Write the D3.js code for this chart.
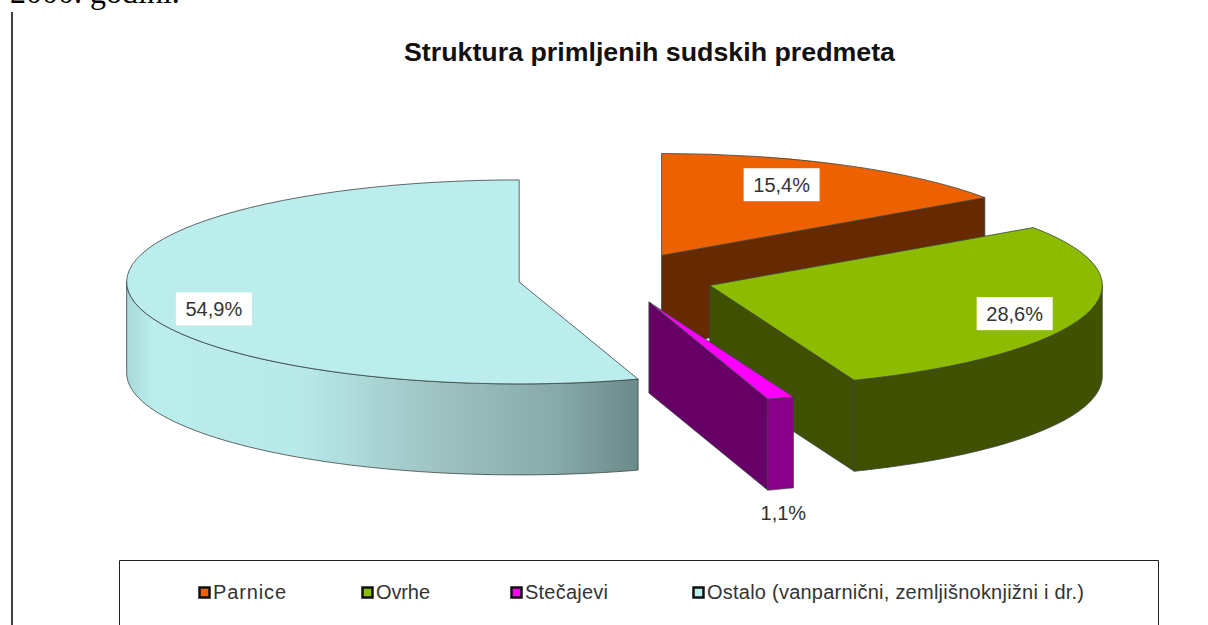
<!doctype html>
<html lang="en">

<head>
    <meta charset="utf-8">
    <title>Struktura primljenih sudskih predmeta</title>
    <script src="https://cdn.jsdelivr.net/npm/d3@7"></script>
    <style>
        html, body { margin: 0; padding: 0; background: #fff; overflow: hidden; }
    </style>
</head>

<body>
    <script>
        // the chart data
        var categories = ["Parnice", "Ovrhe", "Stečajevi", "Ostalo (vanparnični, zemljišnoknjižni i dr.)"];
        var values = [15.4, 28.6, 1.1, 54.9];
        var valueLabels = ["15,4%", "28,6%", "1,1%", "54,9%"];

        // colours per slice: top face, cut face, outer wall
        var topColors = ["#ed6100", "#8cbb00", "#ff00ff", "#bbeded"];
        var cutColors = ["#662900", "#3f5000", "#660066", "#6e8c8c"];
        var wallStops = [
            [["0%", "#662900"], ["100%", "#662900"]],
            [["0%", "#3f5000"], ["100%", "#405200"]],
            [["0%", "#8b008b"], ["100%", "#8b008b"]],
            [["0%", "#a8d8d8"], ["5%", "#bbeded"], ["34%", "#b8e9e9"], ["59%", "#a0c5c5"], ["85%", "#86a8a8"], ["100%", "#6b8a8a"]]
        ];

        // label nudges from the default spot on the slice
        var labelNudge = [[-26, 2], [4.5, 5], [29, 134.5], [5, 15]];

        var width = 1208, height = 625;
        var cx = 616, cy = 278, rx = 392.5, ry = 102, depth = 91, explode = 98;

        var svg = d3.select("body").append("svg")
            .attr("width", width)
            .attr("height", height)
            .style("display", "block");

        // page text above the chart, cut off at the top
        svg.append("text")
            .text("2000. godini.")
            .attr("x", 10)
            .attr("y", 3)
            .attr("font-family", "Liberation Serif")
            .attr("font-size", "32px")
            .attr("fill", "#000");

        // left edge of the text frame
        svg.append("line")
            .attr("x1", 12).attr("x2", 12)
            .attr("y1", 12).attr("y2", height)
            .attr("stroke", "#000")
            .attr("stroke-width", 1.5);

        svg.append("text")
            .text("Struktura primljenih sudskih predmeta")
            .attr("x", 404)
            .attr("y", 61)
            .attr("textLength", 491)
            .attr("lengthAdjust", "spacingAndGlyphs")
            .attr("font-family", "Liberation Sans")
            .attr("font-weight", "bold")
            .attr("font-size", "25.5px")
            .attr("fill", "#111");

        var pie = d3.pie().sort(null);
        var slices = pie(values);

        // point on the ellipse, angle clockwise from the top
        function ex(a) { return rx * Math.sin(a); }
        function ey(a) { return -ry * Math.cos(a); }

        function wallPath(a0, a1) {
            var p = d3.path();
            p.moveTo(ex(a0), ey(a0));
            var n = 60, i, a;
            for (i = 1; i <= n; i++) {
                a = a0 + (a1 - a0) * i / n;
                p.lineTo(ex(a), ey(a));
            }
            for (i = n; i >= 0; i--) {
                a = a0 + (a1 - a0) * i / n;
                p.lineTo(ex(a), ey(a) + depth);
            }
            p.closePath();
            return p.toString();
        }

        function cutPath(a) {
            var p = d3.path();
            p.moveTo(0, 0);
            p.lineTo(ex(a), ey(a));
            p.lineTo(ex(a), ey(a) + depth);
            p.lineTo(0, depth);
            p.closePath();
            return p.toString();
        }

        var defs = svg.append("defs");
        var arc = d3.arc().innerRadius(0).outerRadius(1);

        // back to front: Ostalo, Parnice, Ovrhe, Stečajevi
        var drawOrder = [3, 0, 1, 2];
        var edge = "#3a4444";

        drawOrder.forEach(function(idx) {
            var s = slices[idx];
            var mid = (s.startAngle + s.endAngle) / 2;
            var sx = cx + explode * Math.sin(mid);
            var sy = cy - explode * (ry / rx) * Math.cos(mid);
            var g = svg.append("g").attr("transform", "translate(" + sx + "," + sy + ")");

            // the cut face at the end of the slice looks down only in the right half
            if (s.endAngle < Math.PI) {
                g.append("path")
                    .attr("d", cutPath(s.endAngle))
                    .attr("fill", cutColors[idx])
                    .attr("stroke", edge)
                    .attr("stroke-width", 0.8);
            }

            // the outer wall shows only along the front half of the ellipse
            var w0 = Math.max(s.startAngle, Math.PI / 2);
            var w1 = Math.min(s.endAngle, 3 * Math.PI / 2);
            if (w1 > w0) {
                var gradId = "wall" + idx;
                var grad = defs.append("linearGradient")
                    .attr("id", gradId)
                    .attr("gradientUnits", "userSpaceOnUse")
                    .attr("x1", Math.min(ex(w0), ex(w1))).attr("x2", Math.max(ex(w0), ex(w1)))
                    .attr("y1", 0).attr("y2", 0);
                wallStops[idx].forEach(function(st) {
                    grad.append("stop").attr("offset", st[0]).attr("stop-color", st[1]);
                });
                g.append("path")
                    .attr("d", wallPath(w0, w1))
                    .attr("fill", "url(#" + gradId + ")")
                    .attr("stroke", edge)
                    .attr("stroke-width", 0.8);
            }

            // the top face, drawn on a unit circle and squashed to the ellipse
            g.append("path")
                .attr("d", arc(s))
                .attr("transform", "scale(" + rx + "," + ry + ")")
                .attr("fill", topColors[idx])
                .attr("stroke", edge)
                .attr("stroke-width", 0.8)
                .attr("vector-effect", "non-scaling-stroke");
        });

        // the value labels on white boxes
        slices.forEach(function(s, idx) {
            var mid = (s.startAngle + s.endAngle) / 2;
            var sx = cx + explode * Math.sin(mid);
            var sy = cy - explode * (ry / rx) * Math.cos(mid);
            var lx = sx + 0.8 * ex(mid) + labelNudge[idx][0];
            var ly = sy + 0.8 * ey(mid) + labelNudge[idx][1];
            svg.append("rect")
                .attr("x", lx - 38).attr("y", ly - 17)
                .attr("width", 76).attr("height", 33)
                .attr("fill", "#fff");
            svg.append("text")
                .text(valueLabels[idx])
                .attr("x", lx).attr("y", ly + 7)
                .attr("text-anchor", "middle")
                .attr("font-family", "Liberation Sans")
                .attr("font-size", "20px")
                .attr("fill", "#333");
        });

        // the legend, its box runs off the bottom of the page
        svg.append("path")
            .attr("d", "M119.5," + height + "V560.5H1158.5V" + height)
            .attr("fill", "none")
            .attr("stroke", "#222")
            .attr("stroke-width", 1);

        var legendX = d3.scaleOrdinal().domain(categories).range([199, 362, 511, 693]);
        var legendWidths = [73, 54, 83, 377];
        var legend = svg.selectAll(".legend")
            .data(categories)
            .enter()
            .append("g")
            .attr("class", "legend")
            .attr("transform", function(d) { return "translate(" + legendX(d) + ",592)"; });

        legend.append("rect")
            .attr("x", 0.5).attr("y", -4.5)
            .attr("width", 10).attr("height", 10)
            .attr("fill", function(d, i) { return topColors[i]; })
            .attr("stroke", "#111")
            .attr("stroke-width", 2.5);

        legend.append("text")
            .text(function(d) { return d; })
            .attr("x", 14)
            .attr("y", 7)
            .attr("textLength", function(d, i) { return legendWidths[i]; })
            .attr("font-family", "Liberation Sans")
            .attr("font-size", "20px")
            .attr("fill", "#333");
    </script>
</body>

</html>
